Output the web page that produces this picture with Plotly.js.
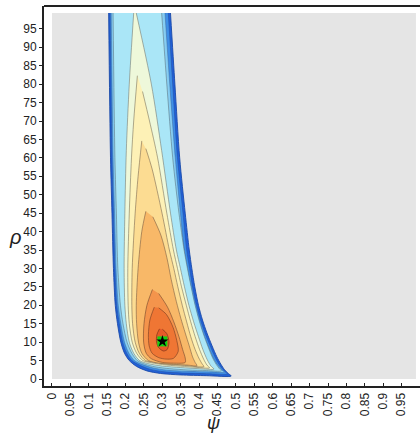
<!DOCTYPE html>
<html><head><meta charset="utf-8">
<script src="https://cdn.plot.ly/plotly-3.0.1.min.js"></script>
<style>html,body{margin:0;padding:0;background:#fff}#c{width:420px;height:437px}</style>
</head><body><div id="c"></div>
<script>
// Contour level boundaries (psi, rho), outermost first
const psiL0 = [0.154,0.159,0.163,0.167,0.172,0.178,0.187,0.197,0.210,0.230,0.258,0.295,0.35,0.42,0.487,0.479,0.469,0.459,0.448,0.435,0.421,0.409,0.398,0.388,0.380,0.373,0.362,0.347,0.334,0.322];
const rhoL0 = [99.3,60,45,30,20,15,10,7,5,3.4,2.2,1.5,1.1,0.9,0.8,1.5,2.5,4,6,9,12.5,16,20,25,30,35,45,60,80,99.3];
const psiL1 = [0.158,0.163,0.167,0.171,0.176,0.183,0.192,0.203,0.217,0.239,0.268,0.305,0.36,0.42,0.477,0.471,0.462,0.452,0.442,0.429,0.415,0.403,0.392,0.382,0.374,0.366,0.356,0.341,0.328,0.316];
const rhoL1 = [99.3,60,45,30,20,15,10,7,5,3.7,2.6,1.95,1.6,1.45,1.35,1.9,2.9,4.3,6.2,9.2,12.7,16.2,20.2,25,30,35,45,60,80,99.3];
const psiL2 = [0.161,0.166,0.170,0.174,0.180,0.187,0.197,0.209,0.224,0.246,0.275,0.312,0.365,0.42,0.469,0.463,0.455,0.445,0.435,0.422,0.408,0.396,0.385,0.375,0.367,0.359,0.349,0.335,0.320,0.307];
const rhoL2 = [99.3,60,45,30,20,15,10,7,5,3.9,3.0,2.4,2.1,1.95,1.85,2.3,3.2,4.5,6.4,9.4,12.8,16.3,20.3,25,30,35,45,60,80,99.3];
const psiL3 = [0.166,0.171,0.175,0.179,0.186,0.193,0.204,0.217,0.232,0.253,0.28,0.32,0.37,0.42,0.460,0.454,0.446,0.437,0.427,0.414,0.401,0.389,0.378,0.368,0.359,0.345,0.328,0.312,0.298];
const rhoL3 = [99.3,60,45,30,20,15,10,7,5,4.0,3.3,2.8,2.45,2.3,2.2,2.9,4.0,5.6,8,11.5,15.5,20,25,30,35,45,60,80,99.3];
const psiL4 = [0.222,0.210,0.202,0.198,0.196,0.198,0.202,0.210,0.222,0.238,0.26,0.30,0.35,0.40,0.44,0.432,0.422,0.410,0.398,0.385,0.372,0.360,0.349,0.338,0.322,0.298,0.270,0.229];
const rhoL4 = [99.3,80,62,45,30,20,15,10,7,5,4.2,3.5,3.1,2.8,2.7,3.5,5.2,8,11.5,15.5,20,25,30,35,45,62,80,99.3];
const psiL5 = [0.232,0.222,0.216,0.210,0.206,0.207,0.210,0.218,0.230,0.247,0.27,0.31,0.36,0.40,0.428,0.421,0.412,0.401,0.389,0.377,0.365,0.352,0.341,0.330,0.312,0.287,0.265,0.246];
const rhoL5 = [82.3,70,60,45,30,20,15,10,7,5,4.4,3.8,3.4,3.1,3.0,3.8,5.4,8,11.5,15.5,20,25,30,35,45,60,70,78];
const psiL6 = [0.244,0.234,0.226,0.218,0.217,0.219,0.226,0.237,0.254,0.275,0.315,0.36,0.413,0.408,0.399,0.389,0.377,0.366,0.354,0.342,0.331,0.319,0.299,0.272,0.255];
const rhoL6 = [64.6,55,45,30,20,15,10,7,5,4.6,4.0,3.7,3.35,4.1,5.7,8,11.5,15.5,20,25,30,35,45,57,62.5];
const psiL7 = [0.255,0.244,0.234,0.229,0.230,0.235,0.244,0.262,0.29,0.33,0.37,0.394,0.389,0.382,0.373,0.362,0.350,0.338,0.324,0.312,0.296,0.274];
const rhoL7 = [45.5,40,30,20,15,10,7,5,4.3,4.0,3.75,3.6,4.5,6,9,12.5,16.5,21,27,33,39,44];
const psiL8 = [0.273,0.258,0.250,0.249,0.256,0.270,0.30,0.33,0.362,0.362,0.355,0.345,0.331,0.314,0.290];
const rhoL8 = [24.3,20,15,10,7,5.5,4.5,4.3,4.5,5.7,8,11.5,15.5,19.5,23.2];
const psiL9 = [0.278,0.266,0.262,0.264,0.272,0.29,0.31,0.33,0.343,0.339,0.329,0.311,0.290];
const rhoL9 = [19.5,16,12,9,7,5.8,5.4,5.6,7.5,10.5,14,17.5,19.3];
const psiL10 = [0.292,0.285,0.284,0.290,0.303,0.313,0.318,0.312,0.300];
const rhoL10 = [13.6,12,10,8.5,7.6,8,10,12.3,13.5];
const bestPsi = [0.30];
const bestRho = [10.2];
const xTicks = [0,0.05,0.1,0.15,0.2,0.25,0.3,0.35,0.4,0.45,0.5,0.55,0.6,0.65,0.7,0.75,0.8,0.85,0.9,0.95];
const xTickText = ['0','0.05','0.1','0.15','0.2','0.25','0.3','0.35','0.4','0.45','0.5','0.55','0.6','0.65','0.7','0.75','0.8','0.85','0.9','0.95'];
const yTicks = [0,5,10,15,20,25,30,35,40,45,50,55,60,65,70,75,80,85,90,95];
const regionPsi = [0, 0.989];
const regionRho = [0, 99.3];

const levels = [
  [psiL0,rhoL0,'#2160d8','#1a4aa8'],
  [psiL1,rhoL1,'#3f8fe6','rgba(40,80,160,0.6)'],
  [psiL2,rhoL2,'#86cdf2','rgba(60,100,150,0.5)'],
  [psiL3,rhoL3,'#aae6f7','rgba(90,110,120,0.6)'],
  [psiL4,rhoL4,'#eef8da','rgba(110,110,100,0.6)'],
  [psiL5,rhoL5,'#fdf1b6','rgba(110,100,80,0.6)'],
  [psiL6,rhoL6,'#fcdc92','rgba(110,90,70,0.6)'],
  [psiL7,rhoL7,'#f8b868','rgba(110,80,60,0.6)'],
  [psiL8,rhoL8,'#f4944c','rgba(100,60,40,0.6)'],
  [psiL9,rhoL9,'#ef7634','rgba(100,50,30,0.6)'],
  [psiL10,rhoL10,'#e75a28','rgba(90,40,20,0.6)']
];
const traces = levels.map(l => ({
  type:'scatter', mode:'lines', x:l[0], y:l[1], fill:'toself', fillcolor:l[2],
  line:{color:l[3], width:0.9, shape:'spline', smoothing:0.8}, hoverinfo:'skip', showlegend:false
}));
traces.push({type:'scatter', mode:'markers', x:bestPsi, y:bestRho, marker:{symbol:'square', size:10, color:'#13d313', line:{width:0}}, showlegend:false});
traces.push({type:'scatter', mode:'markers', x:bestPsi, y:bestRho, marker:{symbol:'star', size:9, color:'#000'}, showlegend:false});

const font = {family:'Liberation Sans, Arial, sans-serif', size:12, color:'#222'};
const layout = {
  width:420, height:437,
  margin:{l:44, r:0, t:6, b:51},
  paper_bgcolor:'#fff', plot_bgcolor:'#fff',
  font:font,
  showlegend:false,
  xaxis:{range:[-0.0217,1.0], tickvals:xTicks, ticktext:xTickText, tickangle:-90,
    showgrid:false, zeroline:false, showline:true, linecolor:'#222', linewidth:2,
    ticks:'inside', ticklen:3, tickcolor:'#222', tickfont:font},
  yaxis:{range:[-1.9,101.2], tickvals:yTicks, showgrid:false, zeroline:false,
    showline:true, linecolor:'#222', linewidth:2, ticks:'outside', ticklen:3, tickcolor:'#222', tickfont:font},
  shapes:[
    {type:'rect', xref:'x', yref:'y', x0:regionPsi[0], x1:regionPsi[1], y0:regionRho[0], y1:regionRho[1], fillcolor:'#e5e5e5', line:{width:0}, layer:'below'},
    {type:'line', xref:'paper', yref:'paper', x0:0, x1:1, y0:1, y1:1, line:{color:'#222', width:2}}
  ],
  annotations:[
    {xref:'paper', yref:'paper', x:-0.078, y:0.392, text:'<i>ρ</i>', showarrow:false, font:{family:'Liberation Sans, Arial, sans-serif', size:20, color:'#222'}, xanchor:'center', yanchor:'middle'},
    {xref:'paper', yref:'paper', x:0.452, y:-0.098, text:'<i>ψ</i>', showarrow:false, font:{family:'Liberation Sans, Arial, sans-serif', size:18, color:'#222'}, xanchor:'center', yanchor:'middle'}
  ]
};
Plotly.newPlot('c', traces, layout, {displayModeBar:false, staticPlot:true});
</script></body></html>
